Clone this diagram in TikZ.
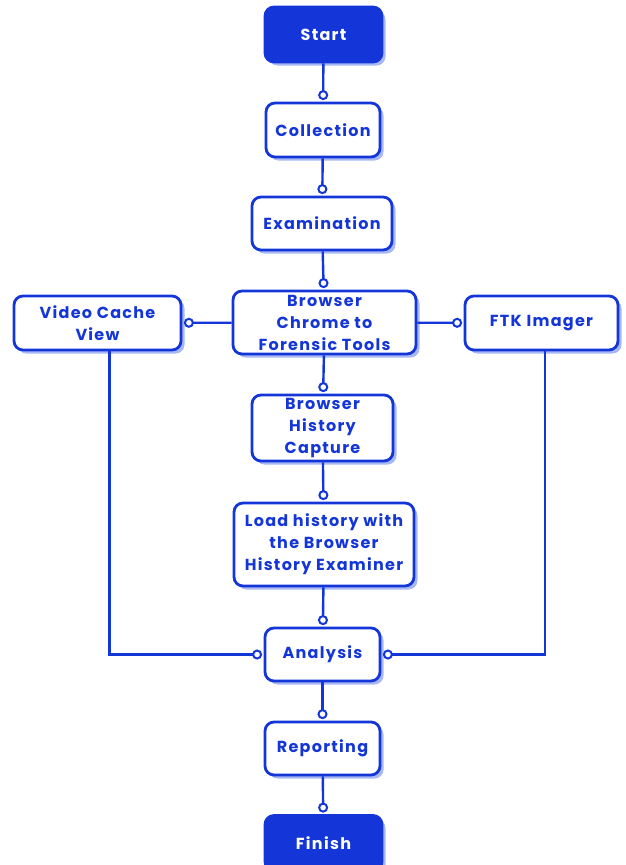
\documentclass[tikz,border=0pt]{standalone}
\usepackage{fontspec}
\setmainfont{Poppins}[LetterSpace=8]
\usetikzlibrary{arrows.meta,shadows}
\definecolor{mainblue}{RGB}{20,54,216}
\definecolor{shadowblue}{RGB}{168,184,245}
\begin{document}
\begin{tikzpicture}[x=1pt,y=-1pt,
  box/.style={draw=mainblue, line width=2.8pt, rounded corners=9pt, fill=white,
    text=mainblue, font=\fontsize{16}{22}\selectfont\bfseries, align=center,
    inner sep=0pt, minimum width=#1,
    drop shadow={shadow xshift=3.5pt, shadow yshift=-3.5pt, fill=shadowblue, opacity=1}},
  termbox/.style={box=#1, fill=mainblue, text=white},
  link/.style={draw=mainblue, line width=2.4pt, -{Circle[open, fill=white, length=10pt, width=10pt, line width=2pt]}, shorten >=1.5pt}
]
\useasboundingbox (0,0) rectangle (626,865);
\begin{scope}
\clip (0,0) rectangle (626,865);
\node[termbox=117pt, minimum height=55pt] (start) at (323.5,34.5) {Start};
\node[box=114pt, minimum height=54pt] (coll) at (323,130) {Collection};
\node[box=140pt, minimum height=53pt] (exam) at (322,223.5) {Examination};
\node[box=183pt, minimum height=63pt] (browser) at (324.5,322.5) {Browser\\Chrome to\\Forensic Tools};
\node[box=167pt, minimum height=54pt] (video) at (97.5,323) {Video Cache\\View};
\node[box=153pt, minimum height=54pt] (ftk) at (541.5,323) {FTK Imager};
\node[box=141pt, minimum height=66pt] (capture) at (322.5,428) {Browser\\History\\Capture};
\node[box=180pt, minimum height=83pt] (load) at (324,544.5) {Load history with\\the Browser\\History Examiner};
\node[box=115pt, minimum height=53pt] (analysis) at (322.5,654.5) {Analysis};
\node[box=115pt, minimum height=53pt] (report) at (322.5,748.5) {Reporting};
\node[termbox=117pt, minimum height=55pt] (finish) at (323.5,843) {Finish};

\draw[link] (start) -- (coll);
\draw[link] (coll) -- (exam);
\draw[link] (exam) -- (browser);
\draw[link] (browser) -- (capture);
\draw[link] (capture) -- (load);
\draw[link] (load) -- (analysis);
\draw[link] (analysis) -- (report);
\draw[link] (report) -- (finish);
\draw[link] (browser) -- (video);
\draw[link] (browser) -- (ftk);
\draw[link] ([xshift=12pt]video.south) |- (analysis.west);
\draw[link] ([xshift=3.5pt]ftk.south) |- (analysis.east);
\end{scope}
\end{tikzpicture}
\end{document}
